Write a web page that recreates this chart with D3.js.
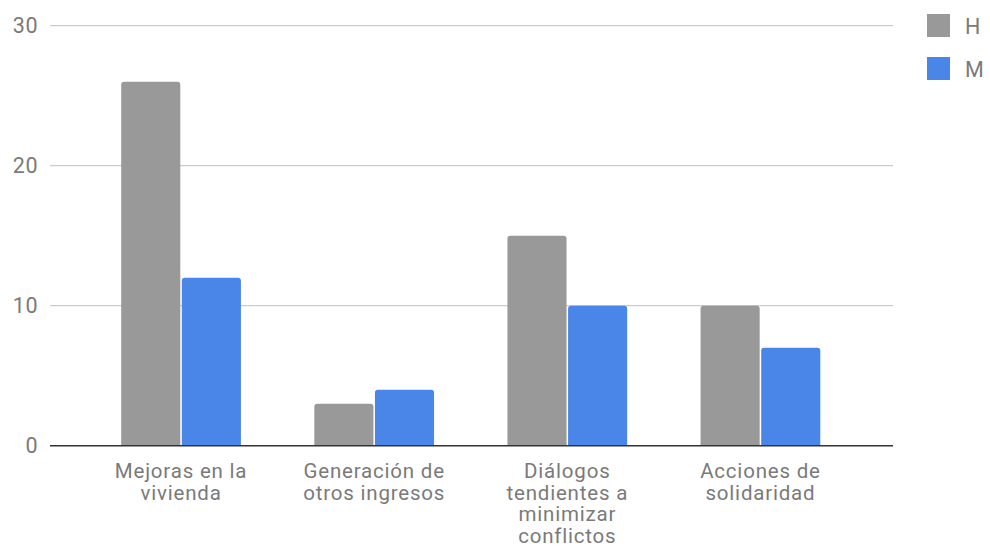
<!DOCTYPE html>
<html>
<head>
<meta charset="utf-8">
<script src="https://cdn.jsdelivr.net/npm/d3@7"></script>
<style>
  html, body { margin: 0; padding: 0; background: #fff; }
  svg { display: block; }
  text { font-family: Roboto, "Open Sans", Arial, sans-serif; }
</style>
</head>
<body>
<svg id="chart" width="990" height="552"></svg>
<script>
// Categories (each label split into its wrapped lines)
const categories = [
  ["Mejoras en la", "vivienda"],
  ["Generación de", "otros ingresos"],
  ["Diálogos", "tendientes a", "minimizar", "conflictos"],
  ["Acciones de", "solidaridad"]
];
const seriesNames = ["H", "M"];
const valuesH = [26, 3, 15, 10];
const valuesM = [12, 4, 10, 7];
const yTicks = [0, 10, 20, 30];
const colors = ["#999999", "#4a86e8"];

const svg = d3.select("#chart");

const gridLeft = 50, gridRight = 893;
const plotTop = 25.7, plotBottom = 445.7;
const fontSize = 20.5;
const textColor = "#7a7a7a";

const y = d3.scaleLinear().domain([0, 30]).range([plotBottom, plotTop]);

const keys = categories.map((c, i) => i);
const x0 = d3.scaleBand().domain(keys).range([84.5, 857]).paddingInner(0.38).paddingOuter(0.19);
const x1 = d3.scaleBand().domain(seriesNames).range([0, x0.bandwidth()]).paddingInner(0.025);

const rows = keys.map(i => ({ i, H: valuesH[i], M: valuesM[i] }));

// Horizontal gridlines
svg.append("g")
  .selectAll("line")
  .data(yTicks.filter(t => t !== 0))
  .join("line")
  .attr("x1", gridLeft).attr("x2", gridRight)
  .attr("y1", d => y(d)).attr("y2", d => y(d))
  .attr("stroke", "#cccccc").attr("stroke-width", 1.3);

// Y-axis tick labels
const yAxis = d3.axisLeft(y).tickValues(yTicks).tickSize(0).tickPadding(0);
const gy = svg.append("g").attr("transform", `translate(38,0)`).call(yAxis);
gy.select(".domain").remove();
gy.selectAll("text")
  .attr("fill", textColor)
  .attr("font-size", 21.5)
  .attr("font-weight", 400)
  .attr("letter-spacing", 0.5);

// Bars with slightly rounded tops
function barPath(x, yTop, w, yBase, r) {
  const h = yBase - yTop;
  r = Math.min(r, h / 2, w / 2);
  return `M${x},${yBase} L${x},${yTop + r} Q${x},${yTop} ${x + r},${yTop} ` +
         `L${x + w - r},${yTop} Q${x + w},${yTop} ${x + w},${yTop + r} L${x + w},${yBase} Z`;
}

svg.append("g")
  .selectAll("g")
  .data(rows)
  .join("g")
  .attr("transform", d => `translate(${x0(d.i)},0)`)
  .selectAll("path")
  .data(d => seriesNames.map((k, j) => ({ k, v: d[k], c: colors[j] })))
  .join("path")
  .attr("d", d => barPath(x1(d.k), y(d.v), x1.bandwidth(), y(0), 3))
  .attr("fill", d => d.c);

// Baseline
svg.append("line")
  .attr("x1", gridLeft).attr("x2", gridRight)
  .attr("y1", y(0)).attr("y2", y(0))
  .attr("stroke", "#333333").attr("stroke-width", 1.5);

// Category labels
const labels = svg.append("g")
  .selectAll("text")
  .data(rows)
  .join("text")
  .attr("x", d => x0(d.i) + x0.bandwidth() / 2)
  .attr("y", 478)
  .attr("text-anchor", "middle")
  .attr("font-size", fontSize)
  .attr("font-weight", 400)
  .attr("letter-spacing", 0.8)
  .attr("fill", textColor);
labels.selectAll("tspan")
  .data(d => categories[d.i])
  .join("tspan")
  .attr("x", function() { return d3.select(this.parentNode).attr("x"); })
  .attr("dy", (d, k) => k === 0 ? 0 : 21.7)
  .text(d => d);

// Legend
const legend = svg.append("g")
  .selectAll("g")
  .data(seriesNames)
  .join("g")
  .attr("transform", (d, j) => `translate(927,${14 + j * 43})`);
legend.append("rect")
  .attr("width", 23).attr("height", 23)
  .attr("fill", (d, j) => colors[j]);
legend.append("text")
  .attr("x", 38).attr("y", 19.5)
  .attr("font-size", 21.5)
  .attr("font-weight", 400)
  .attr("fill", textColor)
  .text(d => d);
</script>
</body>
</html>
